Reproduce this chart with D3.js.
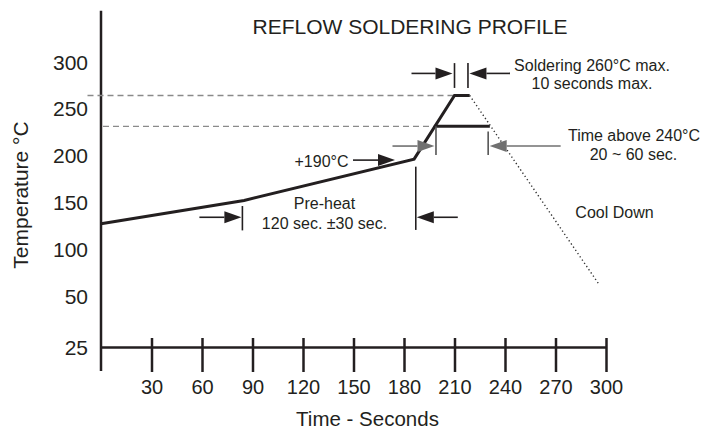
<!DOCTYPE html>
<html><head><meta charset="utf-8">
<script src="https://cdn.jsdelivr.net/npm/d3@7"></script>
<style>
html,body{margin:0;padding:0;background:#fff}
svg{display:block}
text{font-family:"Liberation Sans",Arial,Helvetica,sans-serif;fill:#231f20}
</style>
</head><body>
<svg id="c" width="702" height="429"></svg>
<script>
// ---- data ----
const xTicks = [30, 60, 90, 120, 150, 180, 210, 240, 270, 300];
const yTicks = [25, 50, 100, 150, 200, 250, 300];
const profileTime = [0, 85, 186, 210, 219];
const profileTemp = [127, 152, 196, 264, 264];
const coolTime = [219, 296];
const coolTemp = [264, 62];
const aboveTime = [198, 231];
const aboveTemp = [231, 231];
const peakRef = 264;
const aboveRef = 231;
const preheatMarks = [84, 187];
const solderMarks = [210, 218];
const aboveMarks = [199, 230];

const svg = d3.select("#c");
const ink = "#231f20";
const x = d3.scaleLinear().domain([0, 300]).range([101, 606]);
const y = d3.scaleLinear().domain([25, 50, 300]).range([347, 296, 61.7]);

// axes
const xAxis = svg.append("g").attr("transform", `translate(0,${y(25)})`)
  .call(d3.axisBottom(x).tickValues(xTicks).tickSizeOuter(0).tickSizeInner(25).tickPadding(0));
xAxis.select(".domain").attr("stroke", ink).attr("stroke-width", 2.5);
xAxis.selectAll(".tick line").attr("stroke", ink).attr("stroke-width", 2.5).attr("y1", -9).attr("y2", 25);
xAxis.selectAll(".tick text").attr("y", 47).attr("dy", 0).style("font-size", "20px").attr("fill", ink);

const yAxis = svg.append("g").attr("transform", `translate(${x(0)},0)`)
  .call(d3.axisLeft(y).tickValues(yTicks).tickSize(0).tickPadding(13));
yAxis.select(".domain").remove();
yAxis.selectAll(".tick text").style("font-size", "21px").attr("fill", ink).attr("dy", "0.35em");

svg.append("line").attr("x1", x(0)).attr("x2", x(0)).attr("y1", 10.7).attr("y2", 371)
  .attr("stroke", ink).attr("stroke-width", 2.5);

// reference dashed lines
svg.append("line").attr("x1", 87.5).attr("x2", x(profileTime[3])).attr("y1", y(peakRef)).attr("y2", y(peakRef))
  .attr("stroke", "#8a8a8a").attr("stroke-width", 1.4).attr("stroke-dasharray", "6 4");
svg.append("line").attr("x1", x(0) + 2).attr("x2", x(aboveTime[0])).attr("y1", y(aboveRef)).attr("y2", y(aboveRef))
  .attr("stroke", "#8a8a8a").attr("stroke-width", 1.4).attr("stroke-dasharray", "6 4");

// profile
const line = d3.line().x(d => x(d[0])).y(d => y(d[1]));
svg.append("path").datum(d3.zip(profileTime, profileTemp)).attr("d", line)
  .attr("fill", "none").attr("stroke", ink).attr("stroke-width", 3).attr("stroke-linejoin", "miter");
svg.append("path").datum(d3.zip(aboveTime, aboveTemp)).attr("d", line)
  .attr("fill", "none").attr("stroke", ink).attr("stroke-width", 3);
svg.append("path").datum(d3.zip(coolTime, coolTemp)).attr("d", line)
  .attr("fill", "none").attr("stroke", "#333").attr("stroke-width", 1.4).attr("stroke-dasharray", "1.3 2.6");

// annotation helpers
function vmark(t, tTop, tBot, color) {
  svg.append("line").attr("x1", x(t)).attr("x2", x(t)).attr("y1", y(tTop)).attr("y2", y(tBot))
    .attr("stroke", color).attr("stroke-width", 1.6);
}
function arrow(tipX, temp, len, dir, color) {
  const yy = y(temp), head = 17, hw = 6;
  svg.append("line").attr("x1", tipX - dir * len).attr("x2", tipX - dir * head)
    .attr("y1", yy).attr("y2", yy).attr("stroke", color).attr("stroke-width", 1.6);
  svg.append("path").attr("d", `M${tipX},${yy}L${tipX - dir * head},${yy - hw}L${tipX - dir * head},${yy + hw}Z`)
    .attr("fill", color);
}
function label(txt, cx, by, anchor, size) {
  svg.append("text").attr("x", cx).attr("y", by).attr("text-anchor", anchor || "middle")
    .style("font-size", (size || 16) + "px").text(txt);
}

// pre-heat
vmark(preheatMarks[0], 146, 120, ink);
vmark(preheatMarks[1], 188, 120.5, ink);
arrow(x(preheatMarks[0]) - 1, 134, 42, 1, ink);
arrow(x(preheatMarks[1]) + 1, 134, 41, -1, ink);
label("Pre-heat", 324.5, 208.5);
label("120 sec. \u00b130 sec.", 324.5, 228.5);

// +190
arrow(395, 195, 42, 1, ink);
label("+190\u00b0C", 348.5, 167, "end");

// soldering
vmark(solderMarks[0], 298.5, 272, ink);
vmark(solderMarks[1], 298.5, 272, ink);
arrow(x(solderMarks[0]) - 2, 287.5, 41, 1, ink);
arrow(x(solderMarks[1]) + 1.5, 287.5, 40.5, -1, ink);
label("Soldering 260\u00b0C max.", 592, 70.5);
label("10 seconds max.", 592, 88.5);

// time above
const gray = "#707070";
vmark(aboveMarks[0], aboveRef, 200.5, "#555");
vmark(aboveMarks[1], 225.5, 200.5, "#555");
arrow(x(aboveMarks[0]) - 1.5, 210, 42, 1, gray);
arrow(x(aboveMarks[1]) + 1.5, 210, 71, -1, gray);
label("Time above 240\u00b0C", 634, 141);
label("20 ~ 60 sec.", 633.5, 159.5);

label("Cool Down", 614.5, 217.5);

// titles
svg.append("text").attr("x", 252.5).attr("y", 34).style("font-size", "21px").text("REFLOW SOLDERING PROFILE");
svg.append("text").attr("x", 367.5).attr("y", 426).attr("text-anchor", "middle").style("font-size", "20.5px").text("Time - Seconds");
svg.append("text").attr("transform", "translate(28,195) rotate(-90)").attr("text-anchor", "middle")
  .style("font-size", "21px").text("Temperature \u00b0C");
</script>
</body></html>
